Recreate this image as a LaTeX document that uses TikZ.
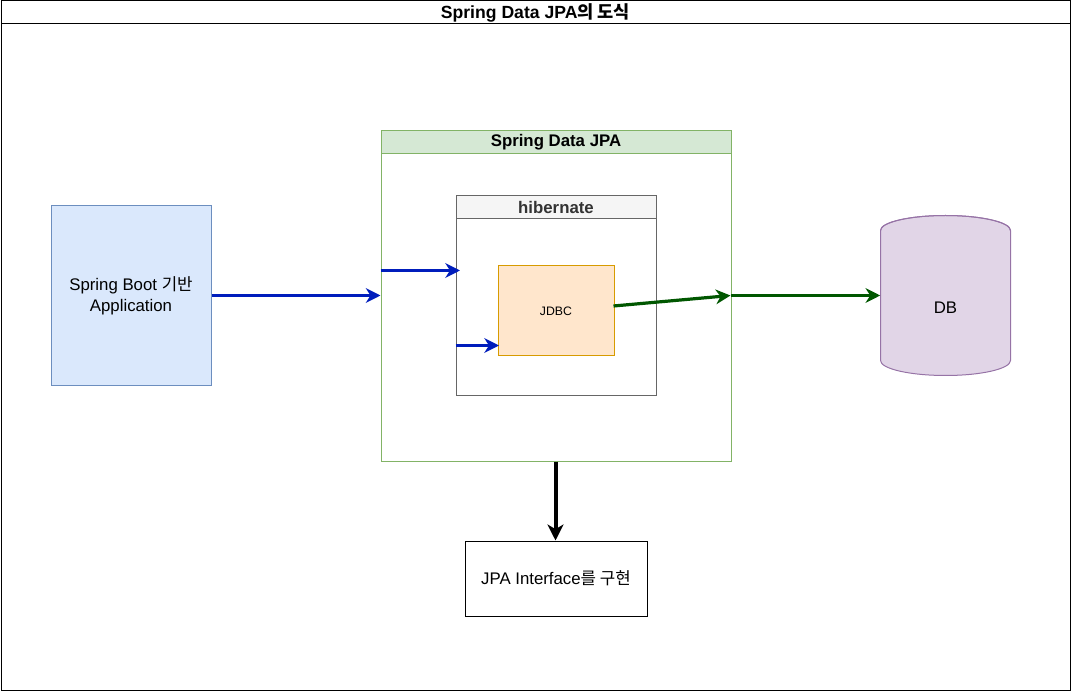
\documentclass[tikz,border=0pt]{standalone}
\usepackage{fontspec}
\setmainfont{Liberation Sans}
\newfontfamily\kr{Noto Sans CJK KR}
\usetikzlibrary{arrows.meta}
\definecolor{appfill}{HTML}{DAE8FC}
\definecolor{appline}{HTML}{6C8EBF}
\definecolor{sdjfill}{HTML}{D5E8D4}
\definecolor{sdjline}{HTML}{82B366}
\definecolor{hibfill}{HTML}{F5F5F5}
\definecolor{hibline}{HTML}{666666}
\definecolor{hibtext}{HTML}{333333}
\definecolor{jdbcfill}{HTML}{FFE6CC}
\definecolor{jdbcline}{HTML}{D79B00}
\definecolor{dbfill}{HTML}{E1D5E7}
\definecolor{dbline}{HTML}{9673A6}
\definecolor{bluearrow}{HTML}{001DBC}
\definecolor{greenarrow}{HTML}{005700}
\tikzset{
  box/.style={draw, line width=0.75pt, inner sep=0pt, anchor=north west, align=center},
  hdr/.style={draw, line width=0.75pt, inner sep=0pt, anchor=north west, font=\bfseries\fontsize{12.6}{14}\selectfont},
  body/.style={font=\fontsize{12.6}{15.5}\selectfont},
  blueflow/.style={draw=bluearrow, line width=2.4pt, -{Stealth[length=11pt,width=11pt,inset=3.5pt]}},
  greenflow/.style={draw=greenarrow, line width=2.4pt, -{Stealth[length=11pt,width=11pt,inset=3.5pt]}},
  blackflow/.style={draw=black, line width=3pt, -{Stealth[length=12pt,width=12pt,inset=3.5pt]}},
}
\begin{document}
\begin{tikzpicture}[x=0.75pt,y=-0.75pt]
\useasboundingbox (0,0) rectangle (1071,691);
% outer frame
\node[box, minimum width=1069*0.75pt, minimum height=689*0.75pt] (frame) at (0.5,0.5) {};
\node[hdr, font=\bfseries\fontsize{13.2}{15}\selectfont, minimum width=1069*0.75pt, minimum height=23*0.75pt, fill=white] (frameh) at (0.5,0.5) {Spring Data JPA{\kr 의 도식}};

% Spring Boot application
\node[box, body, fill=appfill, draw=appline, minimum width=160*0.75pt, minimum height=180*0.75pt] (app) at (50.5,205.5) {Spring Boot {\kr 기반}\\Application};

% Spring Data JPA container
\node[box, fill=white, draw=sdjline, minimum width=350*0.75pt, minimum height=330*0.75pt] (sdj) at (380.5,130.5) {};
\node[hdr, fill=sdjfill, draw=sdjline, minimum width=350*0.75pt, minimum height=23*0.75pt] (sdjh) at (380.5,130.5) {Spring Data JPA};

% hibernate container
\node[box, fill=white, draw=hibline, minimum width=200*0.75pt, minimum height=200*0.75pt] (hib) at (455.5,195.5) {};
\node[hdr, fill=hibfill, draw=hibline, text=hibtext, minimum width=200*0.75pt, minimum height=23*0.75pt] (hibh) at (455.5,195.5) {hibernate};

% JDBC
\node[box, fill=jdbcfill, draw=jdbcline, font=\fontsize{9.2}{11}\selectfont, minimum width=116*0.75pt, minimum height=90*0.75pt] (jdbc) at (497.5,265.5) {JDBC};

% DB cylinder
\node[minimum width=130*0.75pt, minimum height=160*0.75pt, inner sep=0pt] (db) at (945.5,295.5) {};
\fill[dbfill] (880.5,230.5) -- (880.5,360.5) arc[start angle=180,end angle=360,x radius=65,y radius=-15] -- (1010.5,230.5) arc[start angle=0,end angle=180,x radius=65,y radius=-15] -- cycle;
\draw[dbline, line width=0.75pt] (880.5,230.5) -- (880.5,360.5) arc[start angle=180,end angle=360,x radius=65,y radius=-15] -- (1010.5,230.5) arc[start angle=0,end angle=180,x radius=65,y radius=-15] -- cycle;
\draw[dbline, line width=0.75pt] (880.5,230.5) arc[start angle=180,end angle=360,x radius=65,y radius=15];
\node[body] (dblabel) at (945.5,308) {DB};

% JPA Interface
\node[box, body, fill=white, minimum width=182*0.75pt, minimum height=75*0.75pt] (jpa) at (464.5,540.5) {JPA Interface{\kr 를 구현}};

% connectors
\coordinate (p1) at (sdj.west |- 0,270.5);
\coordinate (p1e) at (460,270.5);
\coordinate (p2) at (hib.west |- 0,345.5);
\coordinate (p2e) at (499,345.5);
\coordinate (gstart) at (613.5,306);
\coordinate (gend) at (730.5,295.5);
\draw[blueflow] (app.east |- 0,295.5) -- (sdj.west |- 0,295.5);
\draw[blueflow] (p1) -- (p1e);
\draw[blueflow] (p2) -- (p2e);
\draw[greenflow] (gstart) -- (gend);
\draw[greenflow] (gend) -- (db.west |- gend);
\draw[blackflow] (sdj.south -| 555.5,0) -- (jpa.north -| 555.5,0);
\end{tikzpicture}
\end{document}
